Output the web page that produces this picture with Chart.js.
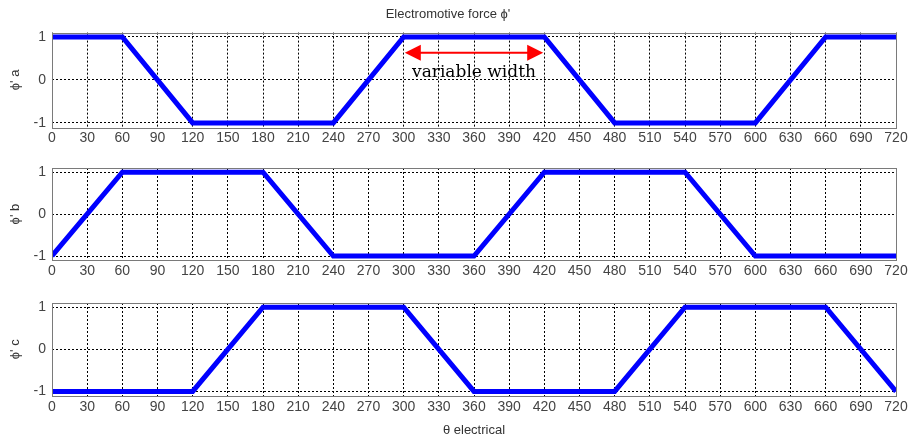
<!DOCTYPE html>
<html>
<head>
<meta charset="utf-8">
<script src="https://cdn.jsdelivr.net/npm/chart.js@4.4.0/dist/chart.umd.min.js"></script>
<style>
body { margin: 0; background: #fff; }
#wrap { position: relative; width: 916px; height: 438px; }
#wrap canvas { position: absolute; left: 0; top: 0; }
</style>
</head>
<body>
<div id="wrap">
  <canvas id="phi-a" width="916" height="438"></canvas>
  <canvas id="phi-b" width="916" height="438"></canvas>
  <canvas id="phi-c" width="916" height="438"></canvas>
</div>
<script>
// corners of the trapezoid waveforms, electrical degrees
var angles = [0, 60, 120, 180, 240, 300, 360, 420, 480, 540, 600, 660, 720];
var phiA = [1, 1, -1, -1, -1, 1, 1, 1, -1, -1, -1, 1, 1];
var phiB = [-1, 1, 1, 1, -1, -1, -1, 1, 1, 1, -1, -1, -1];
var phiC = [-1, -1, -1, 1, 1, 1, -1, -1, -1, 1, 1, 1, -1];

var xTicks = [0, 30, 60, 90, 120, 150, 180, 210, 240, 270, 300, 330, 360,
              390, 420, 450, 480, 510, 540, 570, 600, 630, 660, 690, 720];
var yTicks = [-1, 0, 1];

// "variable width" annotation on the first plot
var arrowFrom = 301;
var arrowTo = 419;
var arrowLevel = 0.63;
var noteLevel = 0.18;
var noteText = 'variable width';

Chart.defaults.font.family = "'Liberation Sans', Arial, sans-serif";

// grey frame round each axes, like matlab
var boxPlugin = {
  id: 'box',
  afterDraw: function(chart) {
    var a = chart.chartArea, c = chart.ctx;
    c.save();
    c.strokeStyle = '#7a7a7a';
    c.lineWidth = 1;
    c.strokeRect(Math.round(a.left) + 0.5, Math.round(a.top) + 0.5,
                 Math.round(a.right - a.left), Math.round(a.bottom - a.top));
    c.restore();
  }
};

var arrowPlugin = {
  id: 'widthArrow',
  afterDraw: function(chart) {
    var xs = chart.scales.x, ys = chart.scales.y, c = chart.ctx;
    var x1 = xs.getPixelForValue(arrowFrom);
    var x2 = xs.getPixelForValue(arrowTo);
    var y = ys.getPixelForValue(arrowLevel);
    var head = 16, half = 8;
    c.save();
    c.strokeStyle = '#ff0000';
    c.fillStyle = '#ff0000';
    c.lineWidth = 2;
    c.beginPath();
    c.moveTo(x1 + head - 2, y);
    c.lineTo(x2 - head + 2, y);
    c.stroke();
    c.beginPath();
    c.moveTo(x1, y); c.lineTo(x1 + head, y - half); c.lineTo(x1 + head, y + half);
    c.closePath(); c.fill();
    c.beginPath();
    c.moveTo(x2, y); c.lineTo(x2 - head, y - half); c.lineTo(x2 - head, y + half);
    c.closePath(); c.fill();
    c.fillStyle = '#000';
    c.font = "17px 'DejaVu Serif', serif";
    c.textAlign = 'center';
    c.textBaseline = 'middle';
    c.fillText(noteText, (x1 + x2) / 2, ys.getPixelForValue(noteLevel));
    c.restore();
  }
};

function makeChart(id, values, yLabel, padTop, padBottom, title, xTitle, extra) {
  var ctx = document.getElementById(id).getContext('2d');
  return new Chart(ctx, {
    type: 'line',
    data: {
      datasets: [{
        data: angles.map(function(a, i) { return { x: a, y: values[i] }; }),
        borderColor: '#0000ff',
        borderWidth: 5,
        pointRadius: 0,
        fill: false,
        tension: 0
      }]
    },
    options: {
      responsive: false,
      animation: false,
      layout: { padding: { top: padTop, bottom: padBottom, left: 0, right: 20 } },
      plugins: {
        legend: { display: false },
        tooltip: { enabled: false },
        title: {
          display: !!title,
          text: title || '',
          color: '#333',
          font: { size: 13, weight: 'normal' },
          padding: { top: 7, bottom: 10 }
        }
      },
      scales: {
        x: {
          type: 'linear',
          min: 0,
          max: 720,
          afterBuildTicks: function(s) { s.ticks = xTicks.map(function(v) { return { value: v }; }); },
          grid: { color: '#000', lineWidth: 1, drawTicks: false },
          border: { display: false, dash: [2, 2] },
          ticks: { padding: 3, color: '#444', font: { size: 14 }, maxRotation: 0, autoSkip: false },
          title: {
            display: !!xTitle,
            text: xTitle || '',
            color: '#333',
            font: { size: 13 },
            padding: { top: 4, bottom: 0 }
          }
        },
        y: {
          min: -1.1,
          max: 1.1,
          afterBuildTicks: function(s) { s.ticks = yTicks.map(function(v) { return { value: v }; }); },
          afterFit: function(s) { s.width = 52; },
          grid: { color: '#000', lineWidth: 1, drawTicks: false },
          border: { display: false, dash: [2, 2] },
          ticks: { padding: 6, color: '#444', font: { size: 14 } },
          title: {
            display: true,
            text: yLabel,
            color: '#333',
            font: { size: 13 },
            padding: { top: 8, bottom: 0 }
          }
        }
      }
    },
    plugins: [boxPlugin].concat(extra || [])
  });
}

makeChart('phi-a', phiA, "\u03d5' a", 0, 288, "Electromotive force \u03d5'", null, [arrowPlugin]);
makeChart('phi-b', phiB, "\u03d5' b", 168, 155, null, null);
makeChart('phi-c', phiC, "\u03d5' c", 303, 0, null, '\u03b8 electrical');
</script>
</body>
</html>
